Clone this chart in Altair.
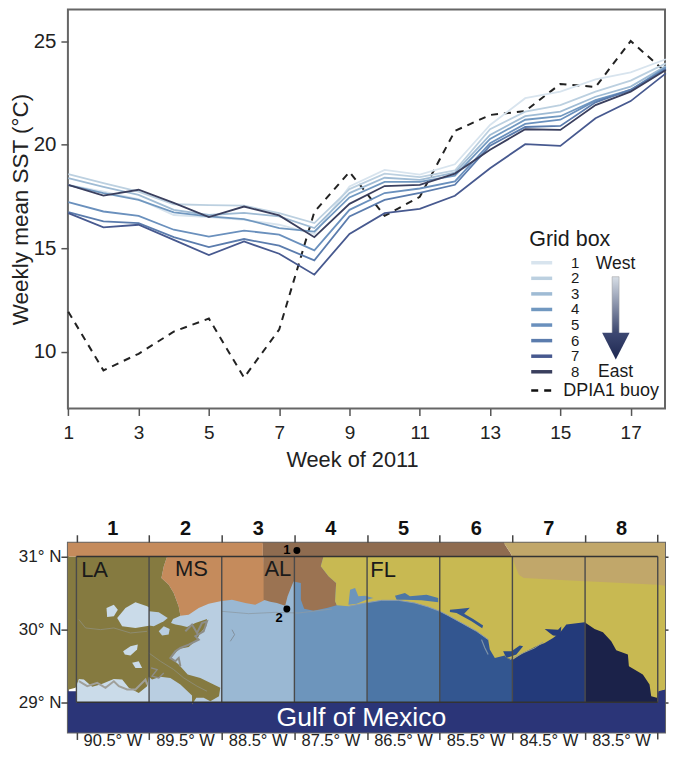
import altair as alt
import pandas as pd

FONT = "Liberation Sans"
weeks = list(range(1, 19))
box_1 = [18.06,17.73,17.37,16.6,16.5,16.37,16.13,15.69,17.98,18.78,18.55,19.05,20.95,22.24,22.56,23.15,23.49,24.12]
box_2 = [18.57,18.14,17.73,17.12,17.08,17.05,16.69,16.21,17.85,18.6,18.43,18.75,20.74,21.59,21.91,22.56,23.09,23.92]
box_3 = [18.38,17.96,17.57,16.85,16.6,16.7,16.53,15.97,17.66,18.4,18.3,18.65,20.47,21.37,21.59,22.31,22.8,23.79]
box_4 = [18.04,17.66,17.33,16.73,16.53,16.4,15.97,15.8,17.45,18.2,18.2,18.5,20.27,21.2,21.37,22.15,22.64,23.73]
box_5 = [17.22,16.77,16.56,15.89,15.56,15.85,15.65,14.89,16.85,17.66,17.88,18.22,20.07,21.0,21.2,22.12,22.6,23.68]
box_6 = [16.74,16.29,16.21,15.53,15.05,15.44,15.12,14.41,16.53,17.33,17.67,18.06,19.95,20.85,20.9,22.04,22.65,23.64]
box_7 = [16.69,16.0,16.13,15.4,14.67,15.32,14.73,13.72,15.69,16.69,16.9,17.53,18.86,20.02,19.94,21.27,22.1,23.44]
box_8 = [18.06,17.54,17.82,17.19,16.5,17.01,16.58,15.53,17.14,18.0,18.06,18.6,19.75,20.74,20.71,21.91,22.56,23.6]
buoy = [11.93,9.1,9.9,10.97,11.6,8.75,11.07,16.75,18.68,16.56,17.48,20.66,21.43,21.62,22.93,22.78,25.0,23.5]
all_boxes = [box_1, box_2, box_3, box_4, box_5, box_6, box_7, box_8]
line_colors = ["#d8e4ee", "#bcd0e0", "#9fbbd4", "#7198c0", "#6a90bd", "#5b7cad", "#47598f", "#3a3f5e"]

# Map outlines as (lon, lat)
la = [(-91.117,31),(-89.752,31),(-89.798,30.863),(-89.83,30.703),(-89.729,30.612),(-89.661,30.498),(-89.592,30.315),(-89.569,30.187),
      (-89.67,30.142),(-89.698,30.087),(-89.638,30.065),(-89.56,30.051),(-89.478,30.033),(-89.363,30.087),(-89.203,30.142),(-89.212,30.042),
      (-89.295,29.95),(-89.34,29.859),(-89.455,29.759),(-89.592,29.731),(-89.698,29.608),(-89.592,29.517),(-89.469,29.38),(-89.295,29.334),
      (-89.02,29.197),(-89.038,29.083),(-89.157,29.014),(-89.249,29.06),(-89.35,29.06),(-89.409,28.969),(-89.409,29.092),(-89.569,29.243),
      (-89.707,29.334),(-89.844,29.348),(-89.959,29.311),(-90.004,29.348),(-90.027,29.22),(-90.142,29.128),(-90.279,29.197),(-90.37,29.311),
      (-90.485,29.32),(-90.668,29.243),(-90.783,29.211),(-90.897,29.311),(-90.966,29.32),(-91.012,29.197),(-91.117,29.17)]
ms = [(-89.752,31),(-88.424,31),(-88.401,30.406),(-88.539,30.338),(-88.676,30.361),(-88.859,30.406),(-89.02,30.384),(-89.18,30.352),
      (-89.317,30.292),(-89.455,30.201),(-89.569,30.187),(-89.592,30.315),(-89.661,30.498),(-89.729,30.612),(-89.83,30.703),(-89.798,30.863)]
al = [(-88.424,31),(-87.6,31),(-87.637,30.864),(-87.531,30.727),(-87.426,30.635),(-87.44,30.384),(-87.417,30.329),(-87.554,30.293),
      (-87.737,30.256),(-87.866,30.284),(-87.911,30.407),(-87.911,30.635),(-88.012,30.658),(-88.049,30.567),(-88.094,30.453),(-88.127,30.325),
      (-88.241,30.361),(-88.333,30.38),(-88.424,30.407)]
fl = [(-87.6,31),(-82.9,31),(-82.9,29.174),(-82.99,29.15),(-83.012,29.06),(-83.09,29.083),(-83.113,29.243),(-83.205,29.38),(-83.397,29.494),
      (-83.411,29.654),(-83.571,29.713),(-83.64,29.836),(-83.754,29.96),(-83.869,30.005),(-84.006,30.096),(-84.258,30.065),(-84.35,29.95),
      (-84.441,29.882),(-84.556,29.813),(-84.67,29.768),(-84.853,29.676),(-84.99,29.585),(-85.082,29.608),(-85.105,29.64),(-85.242,29.608),
      (-85.311,29.722),(-85.334,29.859),(-85.494,29.973),(-85.7,30.087),(-85.883,30.188),(-85.998,30.247),(-86.158,30.307),(-86.341,30.361),
      (-86.57,30.398),(-86.799,30.398),(-87.028,30.361),(-87.257,30.316),(-87.417,30.329),(-87.44,30.384),(-87.426,30.635),(-87.531,30.727),(-87.637,30.864)]
ga = [(-85.118,31.188),(-82.9,31.188),(-82.9,30.598),(-83.0,30.612),(-84.2,30.671),(-84.844,30.703),(-84.912,30.749),(-84.958,30.863),(-85.004,31),(-85.027,31.046)]
strip_ms = [(-91.117,31.188),(-88.434,31.188),(-88.434,31),(-91.117,31)]
strip_al = [(-88.434,31.188),(-85.118,31.188),(-85.027,31.046),(-85.004,31),(-88.434,31)]
gulf = [(-91.117,29.15),(-91,29.15),(-91,29),(-83,29),(-83,29.17),(-82.9,29.17),(-82.9,28.585),(-91.117,28.585)]

lake_a = [(-90.586,30.293),(-90.485,30.338),(-90.43,30.27),(-90.485,30.179),(-90.577,30.17)]
lake_b = [(-90.439,30.156),(-90.325,30.293),(-90.188,30.37),(-90.027,30.316),(-90.0,30.3),(-90.0,30.05),(-90.188,30.019),(-90.371,30.042)]
lake_c = [(-90.0,30.247),(-89.867,30.233),(-89.743,30.156),(-89.798,30.11),(-89.936,30.042),(-90.0,30.051)]
lake_d = [(-89.867,29.973),(-89.798,30.042),(-89.716,30.005),(-89.73,29.928),(-89.821,29.914)]
lake_e = [(-90.357,29.699),(-90.256,29.768),(-90.155,29.791),(-90.165,29.722),(-90.256,29.64),(-90.334,29.654)]
lake_f = [(-90.233,29.54),(-90.142,29.562),(-90.096,29.471),(-90.188,29.471)]
bay_pensacola = [(-87.234,30.544),(-87.165,30.567),(-87.12,30.453),(-87.028,30.462),(-86.914,30.43),(-87.028,30.398),(-87.142,30.352),(-87.257,30.339)]
bay_choctaw = [(-86.616,30.462),(-86.479,30.498),(-86.41,30.453),(-86.181,30.475),(-86.021,30.43),(-86.021,30.37),(-86.25,30.398),(-86.479,30.407),(-86.593,30.407)]
bay_andrew = [(-85.86,30.27),(-85.746,30.279),(-85.586,30.297),(-85.664,30.215),(-85.54,30.142),(-85.403,30.051),(-85.416,30.014),(-85.563,30.11),(-85.7,30.188),(-85.769,30.224),(-85.86,30.238)]
bay_ochlock = [(-84.556,30.005),(-84.372,29.996),(-84.327,30.04),(-84.34,29.905),(-84.441,29.914),(-84.487,29.95)]
bay_apalach = [(-85.128,29.699),(-85.013,29.699),(-84.899,29.777),(-84.853,29.768),(-84.945,29.654),(-85.082,29.608)]

fringe_e = [(-89.501,29.973),(-89.409,30.065),(-89.34,29.95),(-89.272,30.087),(-89.203,30.11),(-89.249,29.973),(-89.363,29.905),(-89.317,29.859),(-89.455,29.79),(-89.569,29.745),(-89.638,29.699),(-89.707,29.608),(-89.638,29.562),(-89.592,29.608),(-89.569,29.494)]
fringe_s = [(-90.966,29.288),(-90.851,29.22),(-90.714,29.266),(-90.6,29.197),(-90.485,29.288),(-90.416,29.22),(-90.302,29.174),(-90.187,29.174),(-90.05,29.311),(-90.027,29.243)]
fringe_b = [(-89.972,29.471),(-89.89,29.448),(-89.959,29.357),(-89.867,29.334),(-89.798,29.402)]
levee = [(-90.966,30.133),(-90.874,30.019),(-90.668,29.996),(-90.485,30.019),(-90.256,29.95),(-90.027,29.973)]
river = [(-90.004,29.676),(-89.844,29.562),(-89.661,29.448),(-89.524,29.334),(-89.34,29.22),(-89.203,29.151)]
islands = [(-88.997,30.247),(-88.63,30.215),(-88.263,30.233),(-87.944,30.224),(-87.485,30.279)]
chandeleur = [(-88.882,29.836),(-88.823,29.927),(-88.859,29.995)]
barrier = [(-85.036,29.585),(-84.853,29.676),(-84.693,29.745),(-84.579,29.823)]
lagoon = [(-85.425,29.859),(-85.379,29.745),(-85.334,29.654)]
fl_shore = [(-87.257,30.316),(-87.028,30.361),(-86.799,30.398),(-86.57,30.398),(-86.341,30.361),(-86.158,30.307),(-85.998,30.247),(-85.883,30.188),(-85.7,30.087),(-85.494,29.973),(-85.334,29.859)]

box_fill = ["#cadbe9", "#b9cee1", "#9ab8d3", "#6d95bc", "#4c76a6", "#335690", "#233a7a", "#1b2249"]
box_edges = [-91, -90, -89, -88, -87, -86, -85, -84, -83]

# Panel geometry used only for converting picture positions to scale values
W = 598
H1 = 399.5
H2 = 190
WK = alt.Scale(domain=[0.989, 17.977], nice=False, zero=False)
SST = alt.Scale(domain=[7.26, 26.52], nice=False, zero=False)
LON = alt.Scale(domain=[-91.117, -82.9], nice=False, zero=False)
LAT = alt.Scale(domain=[28.585, 31.188], nice=False, zero=False)


def wk(px):
    return 1 + (px - 69.4) / 35.2


def sst(py):
    return 25 - (py - 41) / 20.74


def xw(field="x", **kw):
    return alt.X(f"{field}:Q", scale=WK, axis=None, title=None, **kw)


def yt(field="y", **kw):
    return alt.Y(f"{field}:Q", scale=SST, axis=None, title=None, **kw)


def tx(s, x, y, size=15, color="#1a1a1a", align="left", weight="normal"):
    return alt.Chart(pd.DataFrame({"x": [wk(x)], "y": [sst(y)], "t": [s]})).mark_text(
        font=FONT, fontSize=size, color=color, align=align, baseline="middle", fontWeight=weight
    ).encode(x=xw(), y=yt(), text="t:N")


rows = []
for i, s in enumerate(all_boxes):
    for w, v in zip(weeks, s):
        rows.append({"week": w, "sst": v, "box": i + 1})
lines_df = pd.DataFrame(rows)

axis_layer = alt.Chart(pd.DataFrame({"week": [1], "sst": [10]})).mark_point(opacity=0).encode(
    x=alt.X("week:Q", scale=WK, title="Week of 2011", axis=alt.Axis(
        values=list(range(1, 18, 2)), format="d", grid=False, domain=False, tickSize=7, tickWidth=1.5,
        tickColor="#555555", labelFont=FONT, labelFontSize=19, labelColor="#222222", labelPadding=8,
        titleFont=FONT, titleFontSize=21.8, titleFontWeight="normal", titleColor="#222222",
        titleX=284.5, titleY=41, labelFlush=False, labelOverlap=False)),
    y=alt.Y("sst:Q", scale=SST, title="Weekly mean SST (°C)", axis=alt.Axis(
        values=[10, 15, 20, 25], format="d", grid=False, domain=False, tickSize=7, tickWidth=1.5,
        tickColor="#555555", labelFont=FONT, labelFontSize=20.5, labelColor="#222222", labelPadding=5,
        titleFont=FONT, titleFontSize=22.5, titleFontWeight="normal", titleColor="#222222", titlePadding=1)),
)

buoy_layer = alt.Chart(pd.DataFrame({"week": weeks, "sst": buoy})).mark_line(
    color="#222222", strokeWidth=2, strokeDash=[7, 6]
).encode(x=alt.X("week:Q", scale=WK, axis=None), y=alt.Y("sst:Q", scale=SST, axis=None))

series_layer = alt.Chart(lines_df).mark_line(strokeWidth=1.8).encode(
    x=alt.X("week:Q", scale=WK, axis=None),
    y=alt.Y("sst:Q", scale=SST, axis=None),
    color=alt.Color("box:N", scale=alt.Scale(domain=list(range(1, 9)), range=line_colors), legend=None),
)

# Hand-built legend, placed through the plot scales
row_y = [263, 278.6, 294.2, 309.8, 325.4, 341, 356.6, 372.2]
legend_df = pd.DataFrame({
    "x": [wk(533)] * 8, "x2": [wk(554)] * 8, "y": [sst(v) for v in row_y],
    "box": list(range(1, 9)), "t": [str(i) for i in range(1, 9)], "xt": [wk(577)] * 8,
})
legend_rules = alt.Chart(legend_df).mark_rule(strokeWidth=3.5).encode(
    x=xw(), x2="x2:Q", y=yt(),
    color=alt.Color("box:N", scale=alt.Scale(domain=list(range(1, 9)), range=line_colors), legend=None),
)
legend_text = alt.Chart(legend_df).mark_text(font=FONT, fontSize=15, color="#1a1a1a", align="center", baseline="middle").encode(
    x=alt.X("xt:Q", scale=WK, axis=None), y=yt(), text="t:N")
dash_rule = alt.Chart(pd.DataFrame({"x": [wk(533)], "x2": [wk(554)], "y": [sst(391)]})).mark_rule(
    strokeWidth=2.5, strokeDash=[7, 6], color="#111111").encode(x=xw(), x2="x2:Q", y=yt())

shaft = alt.Chart(pd.DataFrame({"x": [wk(614)], "x2": [wk(621)], "y": [sst(277)], "y2": [sst(334)]})).mark_rect(
    fill=alt.LinearGradient(gradient="linear", x1=0, x2=0, y1=0, y2=1,
                            stops=[alt.GradientStop(color="#d7dee6", offset=0), alt.GradientStop(color="#39446c", offset=1)]),
    stroke="#999999", strokeWidth=0.5,
).encode(x=xw(), x2="x2:Q", y=yt(), y2="y2:Q")
head_df = pd.DataFrame({"x": [wk(604), wk(631.5), wk(617.7)], "y": [sst(333), sst(333), sst(360)], "i": [0, 1, 2]})
head = alt.Chart(head_df).mark_line(
    fill=alt.LinearGradient(gradient="linear", x1=0, x2=0, y1=0, y2=1,
                            stops=[alt.GradientStop(color="#3d4872", offset=0), alt.GradientStop(color="#1d2750", offset=1)]),
    stroke=None, strokeWidth=0,
).encode(x=xw(), y=yt(), order="i:Q")

top = alt.layer(
    axis_layer, buoy_layer, series_layer, legend_rules, legend_text, dash_rule, shaft, head,
    tx("Grid box", 531, 240, 21.5), tx("West", 617.5, 264, 17.5, align="center"),
    tx("East", 617.5, 372, 17.5, align="center"), tx("DPIA1 buoy", 565, 391, 18),
).resolve_axis(x="independent", y="independent").properties(width=W, height=H1)


# ---------------- map -----------------
def mx(field="x", **kw):
    return alt.X(f"{field}:Q", scale=LON, axis=None, title=None, **kw)


def my(field="y", **kw):
    return alt.Y(f"{field}:Q", scale=LAT, axis=None, title=None, **kw)


def pts(c):
    return pd.DataFrame({"x": [p[0] for p in c], "y": [p[1] for p in c], "i": list(range(len(c)))})


def poly(c, color):
    return alt.Chart(pts(c)).mark_line(fill=color, stroke=None, strokeWidth=0).encode(
        x=mx(), y=my(), order="i:Q")


def path(c, color, w=1.2):
    return alt.Chart(pts(c)).mark_line(color=color, strokeWidth=w).encode(x=mx(), y=my(), order="i:Q")


def mtext(s, lon, lat, size, color="#1a1a1a", align="center", weight="normal"):
    return alt.Chart(pd.DataFrame({"x": [lon], "y": [lat], "t": [s]})).mark_text(
        font=FONT, fontSize=size, color=color, align=align, baseline="middle", fontWeight=weight
    ).encode(x=mx(), y=my(), text="t:N")


map_layers = []
tick_edges = box_edges[:-1]
map_axes_bl = alt.Chart(pd.DataFrame({"lon": [-90], "lat": [30]})).mark_point(opacity=0).encode(
    x=alt.X("lon:Q", scale=LON, title=None, axis=alt.Axis(
        orient="bottom", values=tick_edges, grid=False, domain=False, tickSize=7, tickWidth=1.5, tickColor="#444444",
        labelExpr="format(-datum.value - 0.5, '.1f') + '° W'", labelOffset=36,
        labelFont=FONT, labelFontSize=16.5, labelColor="#222222", labelPadding=-7, labelFlush=False, labelOverlap=False)),
    y=alt.Y("lat:Q", scale=LAT, title=None, axis=alt.Axis(
        orient="left", values=[29, 30, 31], grid=False, domain=False, tickSize=7, tickWidth=1.5, tickColor="#444444",
        labelExpr="datum.value + '° N'", labelFont=FONT, labelFontSize=17, labelColor="#222222", labelPadding=0,
        labelFlush=False, labelOverlap=False)),
)
map_axes_tr = alt.Chart(pd.DataFrame({"lon": [-90], "lat": [30]})).mark_point(opacity=0).encode(
    x=alt.X("lon:Q", scale=LON, title=None, axis=alt.Axis(
        orient="top", values=tick_edges, grid=False, domain=False, tickSize=8, tickWidth=1.5, tickColor="#444444",
        labelExpr="format(datum.value + 92, 'd')", labelOffset=36,
        labelFont=FONT, labelFontSize=20, labelFontWeight="bold", labelColor="#111111", labelPadding=-4,
        labelFlush=False, labelOverlap=False)),
    y=alt.Y("lat:Q", scale=LAT, title=None, axis=alt.Axis(
        orient="right", values=[29, 30, 31], grid=False, domain=False, tickSize=3, tickWidth=1.5, tickColor="#444444",
        labels=False)),
)
last_top = alt.Chart(pd.DataFrame({"x": [box_edges[-1]]})).mark_rule(color="#444444", strokeWidth=1.5).encode(
    x=mx(), y=alt.value(-8), y2=alt.value(0))
last_bot = alt.Chart(pd.DataFrame({"x": [box_edges[-1]]})).mark_rule(color="#444444", strokeWidth=1.5).encode(
    x=mx(), y=alt.value(H2), y2=alt.value(H2 + 7))

map_layers += [map_axes_bl, map_axes_tr, last_top, last_bot, poly(gulf, "#2b3578")]
for i in range(8):
    l, r = box_edges[i], box_edges[i + 1]
    map_layers.append(poly([(l, 29), (r, 29), (r, 31), (l, 31)], box_fill[i]))
for c, col in [(la, "#857a40"), (ms, "#c58b5c"), (strip_ms, "#c58b5c"), (al, "#9b7352"), (strip_al, "#8f6c50"),
               (fl, "#c8b952"), (ga, "#c1a76a"),
               (lake_a, box_fill[0]), (lake_b, box_fill[0]), (lake_c, box_fill[1]), (lake_d, box_fill[1]),
               (lake_e, box_fill[0]), (lake_f, box_fill[0]),
               (bay_pensacola, "#6d95bc"), (bay_choctaw, box_fill[4]), (bay_andrew, box_fill[5]),
               (bay_ochlock, box_fill[6]), (bay_apalach, "#2a4a88")]:
    map_layers.append(poly(c, col))
for c, col, w in [(fringe_e, "#8d8d88", 2), (fringe_s, "#a0a09a", 2), (fringe_b, "#8d8d88", 1.4),
                  (levee, "#8f8f7c", 0.8), (river, "#8f8f7c", 0.8), (islands, "#8c9aa6", 0.8), (chandeleur, "#7c8790", 0.8),
                  (barrier, "#9a9f8c", 1), (lagoon, "#7d92a8", 1.2), (fl_shore, "#8a9bb0", 1)]:
    map_layers.append(path(c, col, w))

grid_v = alt.Chart(pd.DataFrame({"x": box_edges, "y": [29] * 9, "y2": [31] * 9})).mark_rule(
    color="#4a4a4a", strokeWidth=1.4).encode(x=mx(), y=my(), y2="y2:Q")
grid_h = alt.Chart(pd.DataFrame({"x": [-91, -91], "x2": [-83, -83], "y": [29, 31]})).mark_rule(
    color="#333333", strokeWidth=1.4).encode(x=mx(), x2="x2:Q", y=my())
dots = alt.Chart(pd.DataFrame({"x": [-87.966, -88.104], "y": [31.082, 30.279]})).mark_point(
    filled=True, color="#000000", size=48, opacity=1).encode(x=mx(), y=my())
map_layers += [grid_v, grid_h, dots,
               mtext("1", -88.105, 31.088, 13, weight="bold", color="#000000"),
               mtext("2", -88.21, 30.16, 13, weight="bold", color="#000000"),
               mtext("LA", -90.75, 30.818, 22), mtext("MS", -89.418, 30.827, 22),
               mtext("AL", -88.228, 30.827, 22), mtext("FL", -86.78, 30.818, 22),
               mtext("Gulf of Mexico", -87.078, 28.79, 26.6, color="#ffffff")]

bottom = alt.layer(*map_layers).resolve_axis(x="independent", y="independent").properties(width=W, height=H2)

chart = alt.vconcat(top, bottom, spacing=134, bounds="flush").resolve_scale(
    x="independent", y="independent", color="independent"
).properties(
    padding={"left": 0, "top": 0, "right": 0, "bottom": 0}
).configure_view(stroke="#666666", strokeWidth=2)

chart.save("out.html", embed_options={"renderer": "svg", "actions": False})
